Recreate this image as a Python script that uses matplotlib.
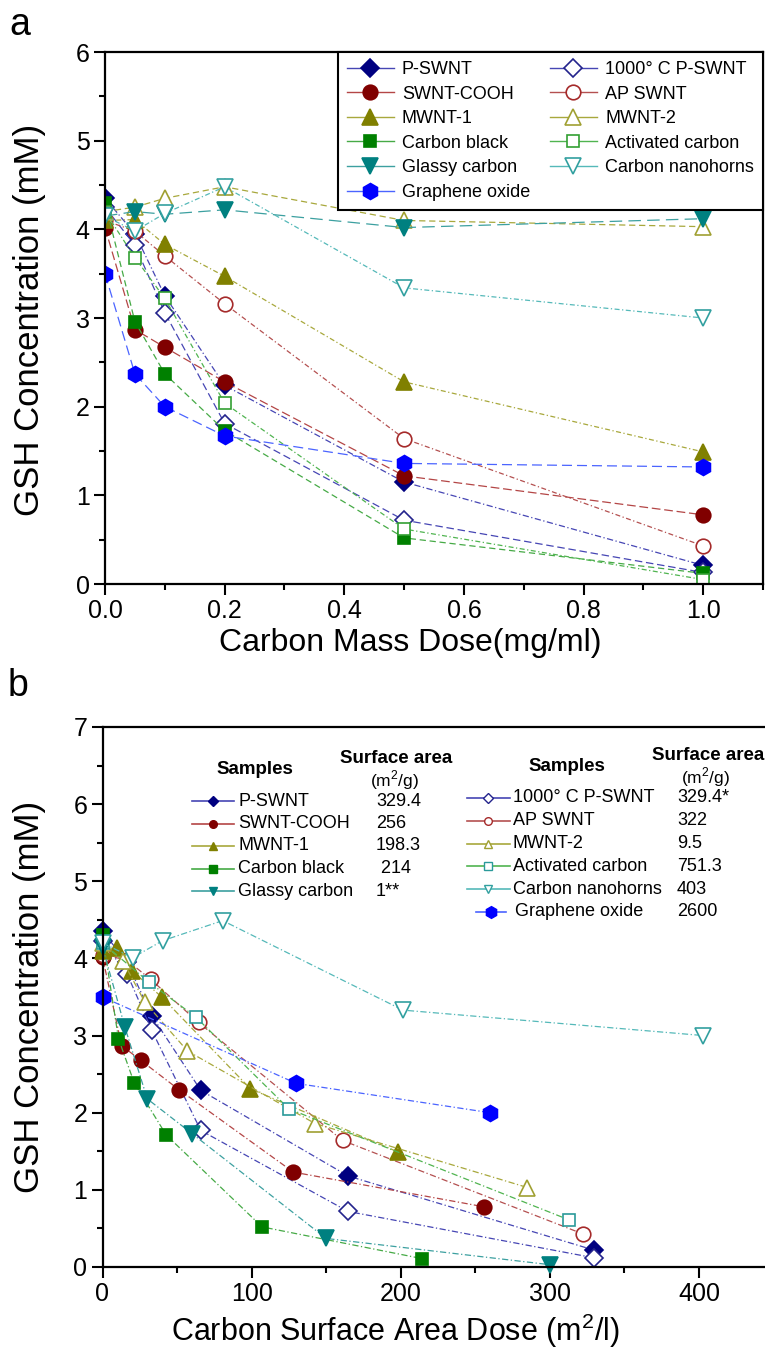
import matplotlib
matplotlib.use("Agg")
import matplotlib.pyplot as plt
from matplotlib.lines import Line2D
from matplotlib.ticker import MultipleLocator, FormatStrFormatter

plt.rcParams['font.family'] = ['Liberation Sans', 'DejaVu Sans']
plt.rcParams['mathtext.fontset'] = 'custom'
plt.rcParams['mathtext.rm'] = 'Liberation Sans'

W, H = 765, 1357

# ---------------- data ----------------
names = ["P-SWNT", "1000° C P-SWNT", "SWNT-COOH", "AP SWNT", "MWNT-1", "MWNT-2",
         "Carbon black", "Activated carbon", "Glassy carbon", "Carbon nanohorns",
         "Graphene oxide"]

# panel a: carbon mass dose (mg/ml)
dose = [0, 0.05, 0.1, 0.2, 0.5, 1.0]
a_p_swnt = [4.35, 3.95, 3.25, 2.24, 1.15, 0.21]
a_1000c = [4.25, 3.82, 3.06, 1.81, 0.72, 0.13]
a_swnt_cooh = [4.02, 2.87, 2.67, 2.28, 1.22, 0.78]
a_ap_swnt = [4.1, 3.98, 3.7, 3.16, 1.64, 0.43]
a_mwnt1 = [4.1, 4.11, 3.83, 3.47, 2.28, 1.49]
a_mwnt2 = [4.2, 4.25, 4.35, 4.48, 4.1, 4.03]
a_cblack = [4.3, 2.96, 2.37, 1.73, 0.52, 0.12]
a_activated = [4.2, 3.68, 3.22, 2.04, 0.62, 0.05]
a_glassy = [4.15, 4.2, 4.17, 4.22, 4.02, 4.12]
a_nanohorns = [4.15, 3.98, 4.18, 4.48, 3.34, 3.0]
a_graphene = [3.5, 2.37, 2.0, 1.67, 1.36, 1.32]

# panel b: carbon surface area dose (m2/l)
bx_p_swnt = [0, 16.5, 33, 65.9, 164.7, 329.4]
by_p_swnt = [4.35, 3.95, 3.26, 2.29, 1.18, 0.22]
bx_1000c = [0, 16.5, 33, 65.9, 164.7, 329.4]
by_1000c = [4.22, 3.8, 3.07, 1.77, 0.72, 0.12]
bx_swnt_cooh = [0, 12.8, 25.6, 51.2, 128, 256]
by_swnt_cooh = [4.02, 2.87, 2.68, 2.3, 1.23, 0.78]
bx_ap_swnt = [0, 16.1, 32.2, 64.4, 161, 322]
by_ap_swnt = [4.05, 3.98, 3.73, 3.17, 1.64, 0.43]
bx_mwnt1 = [0, 9.9, 19.8, 39.7, 99.2, 198.3]
by_mwnt1 = [4.1, 4.14, 3.84, 3.5, 2.31, 1.49]
bx_mwnt2 = [0, 13.5, 28.5, 57, 142.5, 285]
by_mwnt2 = [4.2, 3.97, 3.43, 2.8, 1.86, 1.03]
bx_cblack = [0, 10.7, 21.4, 42.8, 107, 214]
by_cblack = [4.3, 2.96, 2.38, 1.71, 0.52, 0.11]
bx_activated = [0, 31.3, 62.6, 125, 313]
by_activated = [4.2, 3.69, 3.24, 2.05, 0.61]
bx_glassy = [0, 15, 30, 60, 150, 300]
by_glassy = [4.15, 3.11, 2.18, 1.73, 0.37, 0.03]
bx_nanohorns = [0, 20.2, 40.3, 80.6, 201.5, 403]
by_nanohorns = [4.2, 4.01, 4.23, 4.49, 3.33, 3.0]
bx_graphene = [0, 130, 260]
by_graphene = [3.5, 2.38, 2.0]

surface_left = ["329.4", "256", "198.3", " 214", "1**"]
surface_right = ["329.4*", "322", "9.5", "751.3", "403", "2600"]

panel_a = [a_p_swnt, a_1000c, a_swnt_cooh, a_ap_swnt, a_mwnt1, a_mwnt2,
           a_cblack, a_activated, a_glassy, a_nanohorns, a_graphene]
panel_b = [(bx_p_swnt, by_p_swnt), (bx_1000c, by_1000c), (bx_swnt_cooh, by_swnt_cooh),
           (bx_ap_swnt, by_ap_swnt), (bx_mwnt1, by_mwnt1), (bx_mwnt2, by_mwnt2),
           (bx_cblack, by_cblack), (bx_activated, by_activated), (bx_glassy, by_glassy),
           (bx_nanohorns, by_nanohorns), (bx_graphene, by_graphene)]

# ---------------- styles ----------------
# marker, size, face, edge, line colour, dash
styles = {
    "P-SWNT": ('D', 9, '#000080', '#000080', '#4646b4', (0, (5, 2, 1, 2))),
    "1000° C P-SWNT": ('D', 9, 'white', '#23238c', '#4646b4', (0, (6, 3))),
    "SWNT-COOH": ('o', 10.5, '#800000', '#800000', '#b44646', (0, (7, 3))),
    "AP SWNT": ('o', 10.5, 'white', '#a52a2a', '#b45050', (0, (4, 2, 1, 2))),
    "MWNT-1": ('^', 12, '#808000', '#808000', '#a8a83c', (0, (4, 2, 1, 2))),
    "MWNT-2": ('^', 12, 'white', '#a0a032', '#a8a83c', (0, (5, 3))),
    "Carbon black": ('s', 9, '#008000', '#008000', '#46aa46', (0, (5, 3))),
    "Activated carbon": ('s', 9, 'white', '#32a032', '#50b450', (0, (4, 2, 1, 2))),
    "Glassy carbon": ('v', 12, '#008080', '#008080', '#3ca0a0', (0, (10, 5))),
    "Carbon nanohorns": ('v', 12, 'white', '#32a0a0', '#55b9b9', (0, (4, 2, 1, 2))),
    "Graphene oxide": ('h', 11.5, '#0000ff', '#0000ff', '#4b64ff', (0, (8, 4))),
}
# in panel b the open squares are drawn in teal
styles_b_edge = {"Activated carbon": '#2a9a9a'}


def fx(x):
    return x / W


def fy(y):
    return 1 - y / H


def style_axes(ax):
    for s in ax.spines.values():
        s.set_linewidth(1.6)
    ax.tick_params(which='both', direction='out', width=1.5, labelsize=18, pad=3)
    ax.tick_params(which='major', length=8)
    ax.tick_params(which='minor', length=4.5)


fig = plt.figure(figsize=(W / 100, H / 100), dpi=100)

# ---------------- panel a ----------------
axa = fig.add_axes([fx(105), fy(584), (763 - 105) / W, (584 - 52) / H])
for name, vals in zip(names, panel_a):
    m, ms, fc, ec, lc, dash = styles[name]
    axa.plot(dose, vals, color=lc, lw=0.9, ls=dash, marker=m, ms=ms,
             mfc=fc, mec=ec, mew=1.2)
axa.set_xlim(0, 1.1)
axa.set_ylim(0, 6)
axa.xaxis.set_major_locator(MultipleLocator(0.2))
axa.xaxis.set_minor_locator(MultipleLocator(0.1))
axa.yaxis.set_major_locator(MultipleLocator(1))
axa.yaxis.set_minor_locator(MultipleLocator(0.5))
axa.xaxis.set_major_formatter(FormatStrFormatter('%.1f'))
style_axes(axa)

handles = []
for name in names:
    m, ms, fc, ec, lc, dash = styles[name]
    handles.append(Line2D([], [], color=lc, lw=1.0, marker=m, ms=ms, mfc=fc,
                          mec=ec, mew=1.2, label=name))
order = [0, 2, 4, 6, 8, 10, 1, 3, 5, 7, 9]
leg = axa.legend([handles[i] for i in order], [names[i] for i in order], ncol=2,
                 loc='upper right', bbox_to_anchor=(1, 1), borderaxespad=0,
                 fontsize=13, handlelength=2.6, handletextpad=0.45,
                 columnspacing=1.1, labelspacing=0.42, borderpad=0.5,
                 fancybox=False, edgecolor='black', framealpha=1)
leg.get_frame().set_linewidth(1.5)

fig.text(fx(410), fy(643), "Carbon Mass Dose(mg/ml)", ha='center', va='center', fontsize=23)
fig.text(fx(30), fy(320), "GSH Concentration (mM)", ha='center', va='center',
         rotation=90, fontsize=25)
fig.text(fx(20), fy(25), "a", ha='center', va='center', fontsize=27)

# ---------------- panel b ----------------
axb = fig.add_axes([fx(102.5), fy(1267), (775 - 102.5) / W, (1267 - 727) / H])
for name, (xs, ys) in zip(names, panel_b):
    m, ms, fc, ec, lc, dash = styles[name]
    ec = styles_b_edge.get(name, ec)
    axb.plot(xs, ys, color=lc, lw=0.9, ls=(0, (5, 2, 1, 2)), marker=m, ms=ms,
             mfc=fc, mec=ec, mew=1.2, clip_on=False)
axb.set_xlim(0, 451)
axb.set_ylim(0, 7)
axb.xaxis.set_major_locator(MultipleLocator(100))
axb.xaxis.set_minor_locator(MultipleLocator(50))
axb.yaxis.set_major_locator(MultipleLocator(1))
axb.yaxis.set_minor_locator(MultipleLocator(0.5))
style_axes(axb)

fig.text(fx(395), fy(1331), "Carbon Surface Area Dose (m$^2$/l)", ha='center',
         va='center', fontsize=22)
fig.text(fx(30), fy(997), "GSH Concentration (mM)", ha='center', va='center',
         rotation=90, fontsize=25)
fig.text(fx(18), fy(686), "b", ha='center', va='center', fontsize=27)


# table-like legend of panel b
def legend_row(x0, x1, y, name, label_x, value, value_x, small=True):
    m, ms, fc, ec, lc, dash = styles[name]
    ec = styles_b_edge.get(name, ec)
    size = 5.5 if small else 8.5
    fig.add_artist(Line2D([fx(x0), fx(x1)], [fy(y), fy(y)], color=lc, lw=1.2,
                          transform=fig.transFigure))
    fig.add_artist(Line2D([fx((x0 + x1) / 2)], [fy(y)], marker=m, ms=size, mfc=fc,
                          mec=ec, mew=1.0, transform=fig.transFigure, ls='none'))
    fig.text(fx(label_x), fy(y), name, ha='left', va='center', fontsize=13)
    fig.text(fx(value_x), fy(y), value, ha='left', va='center', fontsize=13)


left_names = ["P-SWNT", "SWNT-COOH", "MWNT-1", "Carbon black", "Glassy carbon"]
right_names = ["1000° C P-SWNT", "AP SWNT", "MWNT-2", "Activated carbon",
               "Carbon nanohorns", "Graphene oxide"]

fig.text(fx(255), fy(770), "Samples", ha='center', va='center', fontsize=13.5, weight='bold')
fig.text(fx(396), fy(759), "Surface area", ha='center', va='center', fontsize=13.5, weight='bold')
fig.text(fx(394), fy(780), "(m$^2$/g)", ha='center', va='center', fontsize=12.5)
for i, (nm, val) in enumerate(zip(left_names, surface_left)):
    legend_row(192, 234, 801 + 22.5 * i, nm, 238, val, 376)

fig.text(fx(567), fy(767), "Samples", ha='center', va='center', fontsize=13.5, weight='bold')
fig.text(fx(708), fy(756), "Surface area", ha='center', va='center', fontsize=13.5, weight='bold')
fig.text(fx(705), fy(777), "(m$^2$/g)", ha='center', va='center', fontsize=12.5)
for i, (nm, val) in enumerate(zip(right_names, surface_right)):
    last = nm == "Graphene oxide"
    x0, x1 = (476, 506) if last else (467, 510)
    legend_row(x0, x1, 798 + 22.8 * i, nm, 515 if last else 513, val, 677,
               small=not last)

fig.savefig("out.png", dpi=100)
